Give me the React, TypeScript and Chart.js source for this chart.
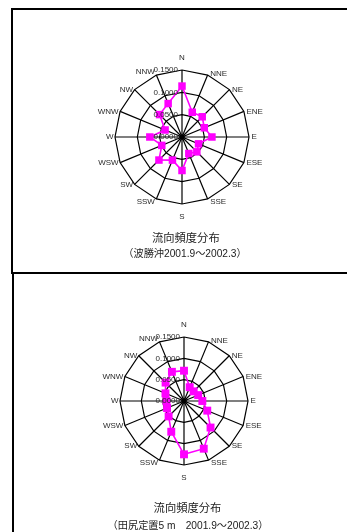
import React, { useEffect, useRef } from "react";
import { Chart, registerables } from "chart.js";

Chart.register(...registerables);

const DIRECTIONS = ["N", "NNE", "NE", "ENE", "E", "ESE", "SE", "SSE", "S", "SSW", "SW", "WSW", "W", "WNW", "NW", "NNW"];
const TICK_VALUES = [0, 0.05, 0.1, 0.15];
const TICK_LABELS = ["0.0000", "0.0500", "0.1000", "0.1500"];

// 波勝沖 2001.9 ~ 2002.3
const HAGACHI_VALUES = [0.114, 0.06, 0.064, 0.054, 0.067, 0.04, 0.047, 0.04, 0.075, 0.056, 0.073, 0.049, 0.072, 0.041, 0.071, 0.081];
// 田尻定置5m 2001.9 ~ 2002.3
const TAJIRI_VALUES = [0.071, 0.035, 0.032, 0.036, 0.043, 0.059, 0.088, 0.121, 0.125, 0.078, 0.051, 0.043, 0.041, 0.047, 0.061, 0.074];

const TITLE = "流向頻度分布";
const SUB_TOP = "（波勝沖2001.9～2002.3）";
const SUB_BOTTOM = "（田尻定置5 m　2001.9～2002.3）";

const rosePlugin = {
  id: "rose",
  afterDatasetsDraw(chart: any) {
    const s = chart.scales.r;
    const ctx = chart.ctx;
    ctx.save();
    ctx.font = '8px "Liberation Sans", Arial, sans-serif';
    ctx.fillStyle = "#2a2a2a";
    ctx.textBaseline = "middle";
    DIRECTIONS.forEach((d, i) => {
      const p = s.getPointPosition(i, s.drawingArea);
      let x = p.x;
      let y = p.y;
      if (i === 0) {
        ctx.textAlign = "center";
        y -= 12;
      } else if (i === 8) {
        ctx.textAlign = "center";
        y += 12.5;
      } else if (i < 8) {
        ctx.textAlign = "left";
        x += 2.5;
        if (i === 1) y -= 1;
        if (i === 7) y += 3;
      } else {
        ctx.textAlign = "right";
        x -= 1.5;
        if (i === 9) y += 3;
        if (i === 15) y -= 3;
      }
      ctx.fillText(d, x, y);
    });
    ctx.textAlign = "right";
    TICK_VALUES.forEach((v, i) => {
      const y = s.yCenter - s.getDistanceFromCenterForValue(v);
      ctx.fillText(TICK_LABELS[i], s.xCenter - 4, y);
    });
    ctx.fillStyle = "#000";
    ctx.beginPath();
    ctx.arc(s.xCenter, s.yCenter, 2.8, 0, Math.PI * 2);
    ctx.fill();
    ctx.restore();
  },
};

function RoseChart(props: { values: number[]; width: number; height: number; cx: number; cy: number; r: number; top: number; pr: number }) {
  const ref = useRef<HTMLCanvasElement>(null);
  useEffect(() => {
    if (!ref.current) return;
    const { values, width, height, cx, cy, r, pr } = props;
    const chart = new Chart(ref.current, {
      type: "radar",
      data: {
        labels: DIRECTIONS,
        datasets: [
          {
            data: values,
            borderColor: "#ff00ff",
            backgroundColor: "#ff00ff",
            borderWidth: 1.6,
            fill: false,
            tension: 0,
            pointStyle: "rect",
            pointRadius: pr,
            pointHoverRadius: pr,
            pointBackgroundColor: "#ff00ff",
            pointBorderColor: "#ff00ff",
            pointBorderWidth: 0,
          },
        ],
      },
      options: {
        responsive: false,
        animation: false,
        events: [],
        layout: { padding: { left: cx - r, right: width - cx - r, top: cy - r, bottom: height - cy - r } },
        plugins: { legend: { display: false }, tooltip: { enabled: false }, title: { display: false } },
        scales: {
          r: {
            min: 0,
            max: 0.15,
            ticks: { display: false, stepSize: 0.05 },
            pointLabels: { display: false },
            grid: { color: "#000", lineWidth: 1.2, circular: false },
            angleLines: { color: "#000", lineWidth: 1.2 },
          },
        },
      } as any,
      plugins: [rosePlugin],
    });
    return () => chart.destroy();
  }, []);
  return (
    <canvas
      ref={ref}
      width={props.width}
      height={props.height}
      style={{ position: "absolute", left: 0, top: props.top, width: props.width, height: props.height, display: "block" }}
    />
  );
}

function Caption(props: { text: string; cx: number; cy: number; size: number }) {
  const lh = 14;
  return (
    <div
      style={{
        position: "absolute",
        left: props.cx - 150,
        width: 300,
        top: props.cy - lh / 2,
        height: lh,
        lineHeight: lh + "px",
        textAlign: "center",
        fontSize: props.size,
        fontFamily: '"Liberation Sans", "Noto Sans CJK JP", sans-serif',
        color: "#222",
        whiteSpace: "pre",
      }}
    >
      {props.text}
    </div>
  );
}

export default function App() {
  return (
    <div style={{ position: "fixed", left: 0, top: 0, width: 347, height: 532, overflow: "hidden", background: "#fff" }}>
      <div style={{ position: "absolute", left: 11, top: 8, width: 400, height: 266, boxSizing: "border-box", borderLeft: "2px solid #000", borderTop: "2px solid #000", borderBottom: "2px solid #000" }} />
      <div style={{ position: "absolute", left: 12, top: 272, width: 400, height: 300, boxSizing: "border-box", borderLeft: "2px solid #000", borderTop: "2px solid #000" }} />
      <RoseChart values={HAGACHI_VALUES} width={347} height={272} cx={182} cy={137} r={67} top={0} pr={5.3} />
      <RoseChart values={TAJIRI_VALUES} width={347} height={258} cx={184} cy={127} r={64} top={274} pr={5.6} />
      <Caption text={TITLE} cx={185.8} cy={237.7} size={11.3} />
      <Caption text={SUB_TOP} cx={185} cy={254.3} size={10.2} />
      <Caption text={TITLE} cx={187.5} cy={508.3} size={11.3} />
      <Caption text={SUB_BOTTOM} cx={188} cy={525.7} size={10.2} />
    </div>
  );
}
